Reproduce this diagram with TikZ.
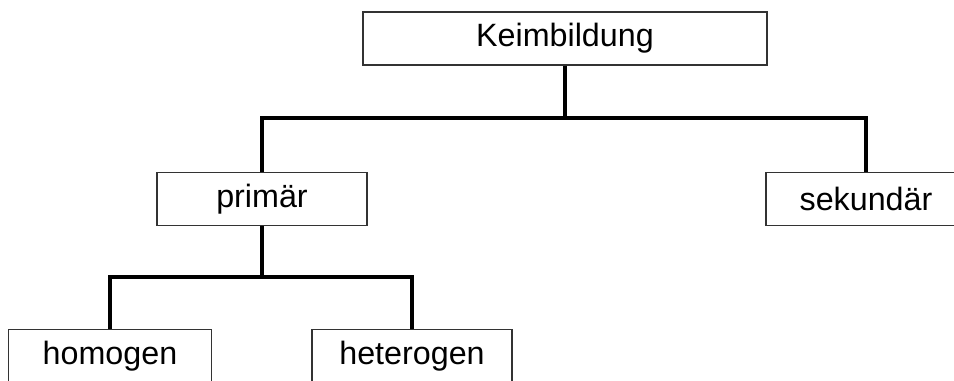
\documentclass[tikz,border=0pt]{standalone}
\usepackage{fontspec}
\setmainfont{Liberation Sans}
\begin{document}
\begin{tikzpicture}[x=0.75pt,y=-0.75pt,
  box/.style={draw=black!80,line width=0.8pt,fill=white,inner sep=0pt,minimum height=53*0.75pt,font=\fontsize{24.2}{29}\selectfont},
  conn/.style={line width=2.3pt,line join=miter}]
\useasboundingbox (0,0) rectangle (954,380);
\clip (0,0) rectangle (954,380);
\node[box,minimum width=404*0.75pt] (keim) at (565,38.5) {\raisebox{-1pt}{Keimbildung}};
\node[box,minimum width=210*0.75pt] (prim) at (262,199) {\raisebox{-1pt}{primär}};
\node[box,minimum width=200*0.75pt] (sek) at (866,199) {\raisebox{-1pt}{sekundär}};
\node[box,minimum width=203*0.75pt] (homo) at (110,356) {\raisebox{-1pt}{homogen}};
\node[box,minimum width=200*0.75pt] (hetero) at (412,356) {\raisebox{-1pt}{heterogen}};
\coordinate (j1) at (565,118);
\coordinate (j2) at (262,277);
\draw[conn] (keim.south) -- (j1);
\draw[conn] (prim.north) |- (j1) -| (sek.north);
\draw[conn] (prim.south) -- (j2);
\draw[conn] (homo.north) |- (j2) -| (hetero.north);
\end{tikzpicture}
\end{document}
